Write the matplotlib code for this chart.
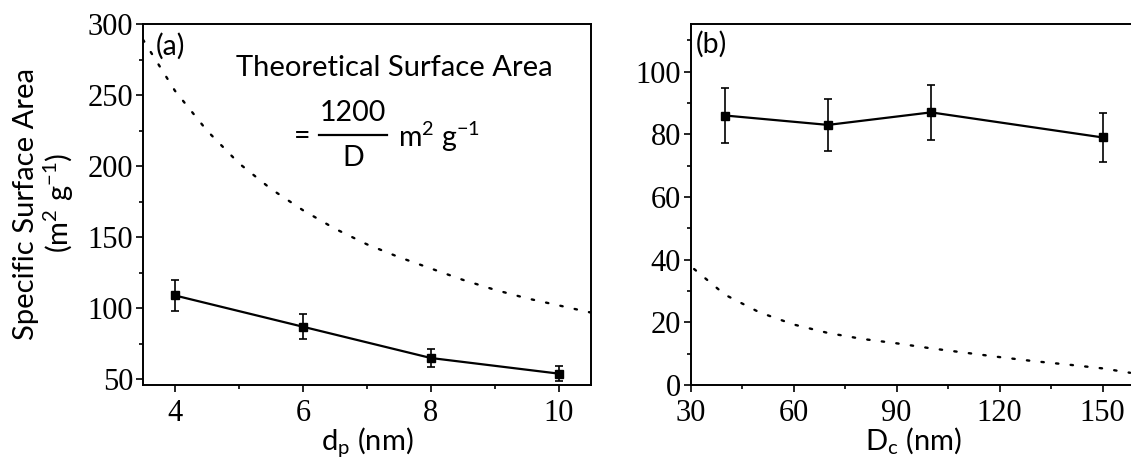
import matplotlib
matplotlib.use("Agg")
import matplotlib.pyplot as plt
from matplotlib.ticker import MultipleLocator

# Measured specific surface area, panel (a): pore diameter d_p
dp_nm = [4, 6, 8, 10]
ssa_a = [109, 87, 65, 54]
err_a = [11, 8.8, 6.5, 5.3]

# Theoretical curve, panel (a)
dp_theory = [3.5, 4.0, 4.5, 5.0, 5.5, 6.0, 6.5, 7.0, 7.5, 8.0, 8.5, 9.0, 9.5, 10.0, 10.5]
ssa_a_theory = [289, 253, 225, 202, 184, 169, 156, 145, 136, 128, 120, 113, 107, 102, 97]

# Measured specific surface area, panel (b): crystal size D_c
dc_nm = [40, 70, 100, 150]
ssa_b = [86, 83, 87, 79]
err_b = [8.7, 8.3, 8.7, 7.9]

# Theoretical curve, panel (b)
dc_theory = [31, 40, 50, 60, 70, 80, 90, 100, 110, 120, 130, 140, 150, 158]
ssa_b_theory = [37, 28.8, 23.2, 19.3, 16.6, 14.7, 13.3, 11.7, 10.3, 8.9, 7.6, 6.5, 5.3, 3.9]

W, H = 1131, 457
fig = plt.figure(figsize=(W / 100, H / 100), dpi=100)

SANS = ["Lato", "DejaVu Sans"]
SERIF = ["Liberation Serif", "DejaVu Serif"]
plt.rcParams["mathtext.fontset"] = "custom"
plt.rcParams["mathtext.rm"] = "Lato"
plt.rcParams["mathtext.it"] = "Lato"

FS = 20.5     # sans-serif text size
TICK_FS = 22  # serif tick label size


def px_box(x0, x1, top, bottom):
    return [x0 / W, 1 - bottom / H, (x1 - x0) / W, (bottom - top) / H]


ax1 = fig.add_axes(px_box(143, 590.7, 24, 385))
ax2 = fig.add_axes(px_box(690.7, 690.7 + 130 * 3.433, 24, 385))


def style(ax):
    for s in ax.spines.values():
        s.set_linewidth(1.4)
    ax.tick_params(which="major", direction="out", length=5, width=1.2,
                   labelsize=TICK_FS)
    ax.tick_params(axis="x", which="major", pad=5)
    ax.tick_params(axis="y", which="major", pad=2)
    ax.tick_params(which="minor", direction="out", length=3, width=1.2)
    for lab in ax.get_xticklabels() + ax.get_yticklabels():
        lab.set_family(SERIF)


# Panel (a)
ax1.plot(dp_theory, ssa_a_theory, color="black", lw=1.7,
         linestyle=(0, (1, 5.2)), dash_capstyle="round")
ax1.errorbar(dp_nm, ssa_a, yerr=err_a, color="black", lw=1.6, marker="s",
             markersize=5.5, capsize=3, elinewidth=1.2, capthick=1.2)
ax1.set_xlim(3.5, 10.5)
ax1.set_ylim(46, 300)
ax1.set_xticks([4, 6, 8, 10])
ax1.set_yticks([50, 100, 150, 200, 250, 300])
ax1.xaxis.set_minor_locator(MultipleLocator(1))
ax1.yaxis.set_minor_locator(MultipleLocator(25))
style(ax1)
ax1.set_xlabel(r"d$_\mathregular{p}$ (nm)", family=SANS, fontsize=21, labelpad=-2)

# Panel (b)
ax2.plot(dc_theory, ssa_b_theory, color="black", lw=1.7,
         linestyle=(0, (1, 5.2)), dash_capstyle="round")
ax2.errorbar(dc_nm, ssa_b, yerr=err_b, color="black", lw=1.6, marker="s",
             markersize=5.5, capsize=3, elinewidth=1.2, capthick=1.2)
ax2.set_xlim(30, 160)
ax2.set_ylim(0, 115.2)
ax2.set_xticks([30, 60, 90, 120, 150])
ax2.set_yticks([0, 20, 40, 60, 80, 100])
ax2.xaxis.set_minor_locator(MultipleLocator(15))
ax2.yaxis.set_minor_locator(MultipleLocator(10))
style(ax2)
ax2.set_xlabel(r"D$_\mathregular{c}$ (nm)", family=SANS, fontsize=21, labelpad=-2)

# Panel tags
fig.text(156 / W, 1 - 46 / H, "(a)", family=SANS, fontsize=FS, va="center", ha="left")
fig.text(696 / W, 1 - 44 / H, "(b)", family=SANS, fontsize=FS, va="center", ha="left")

# Shared y label, two lines
fig.text(26 / W, 1 - 204 / H, "Specific Surface Area", family=SANS, fontsize=FS + 0.5,
         rotation=90, ha="center", va="center")
fig.text(59 / W, 1 - 203 / H, r"(m$^\mathregular{2}$ g$^\mathregular{-1}$)",
         family=SANS, fontsize=FS + 0.5, rotation=90, ha="center", va="center")

# Formula annotation in panel (a)
fig.text(394 / W, 1 - 68 / H, "Theoretical Surface Area", family=SANS,
         fontsize=FS + 0.5, ha="center", va="center")
fig.text(302 / W, 1 - 136 / H, "=", family=SANS, fontsize=FS, ha="center", va="center")
fig.text(353 / W, 1 - 113 / H, "1200", family=SANS, fontsize=FS, ha="center", va="center")
fig.text(353 / W, 1 - 158 / H, "D", family=SANS, fontsize=FS, ha="center", va="center")
fig.add_artist(plt.Line2D([319 / W, 387 / W], [1 - 135 / H, 1 - 135 / H],
                          color="black", lw=1.6, transform=fig.transFigure))
fig.text(398 / W, 1 - 137 / H, r"m$^\mathregular{2}$ g$^\mathregular{-1}$",
         family=SANS, fontsize=FS, ha="left", va="center")

fig.savefig("out.png", dpi=100)
